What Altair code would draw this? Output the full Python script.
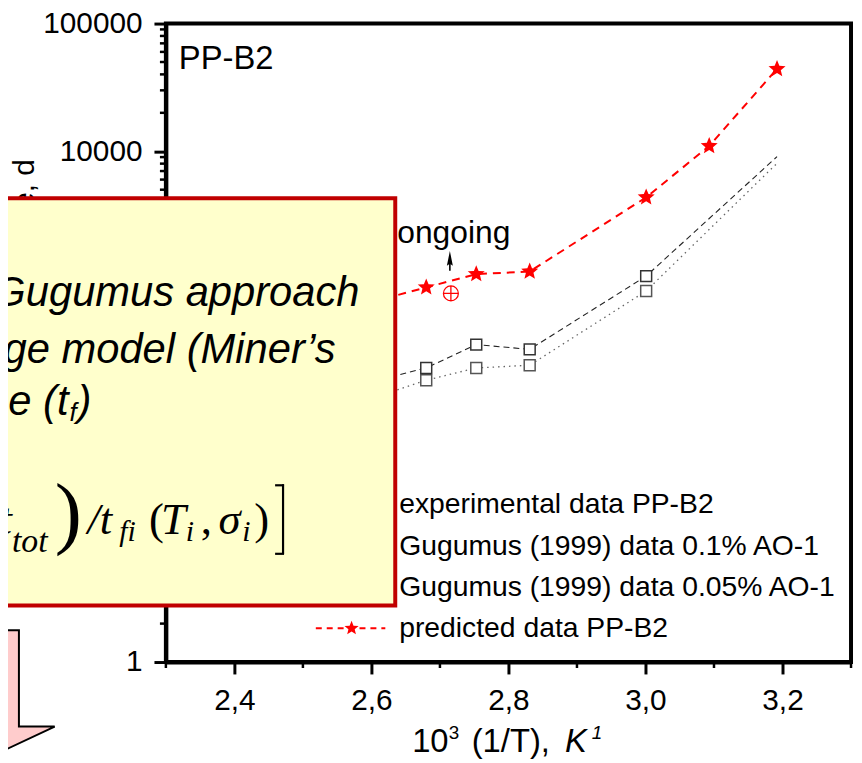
import math
import altair as alt
import pandas as pd

# ---------------- data ----------------
x_pred = [2.60, 2.680, 2.753, 2.831, 3.001, 3.093, 3.192]
y_pred = [660, 859, 1091, 1143, 4357, 11000, 44150]

x_gug = [2.60, 2.680, 2.753, 2.831, 3.001, 3.192]
y_gug01 = [157, 201, 306, 281, 1053, 9080]
y_gug005 = [116, 161, 201, 211, 805, 8050]
gug_marked = [True, True, True, True, True, False]

x_ongoing = [2.716]
y_ongoing = [771]

legend_labels = [
    "experimental data PP-B2",
    "Gugumus (1999) data 0.1% AO-1",
    "Gugumus (1999) data 0.05% AO-1",
    "predicted data PP-B2",
]
x_ticks = [2.4, 2.6, 2.8, 3.0, 3.2]
x_minor = [2.3, 2.5, 2.7, 2.9, 3.1, 3.3]
y_ticks = [1, 10, 100, 1000, 10000, 100000]
y_minor = [m * 10 ** d for d in range(5) for m in range(2, 10)]

SANS = "Liberation Sans"
SERIF = "Liberation Serif"
RED = "#FF0000"

pred = pd.DataFrame({"x": x_pred, "y": y_pred})
g01 = pd.DataFrame({"x": x_gug, "y": y_gug01, "m": gug_marked})
g005 = pd.DataFrame({"x": x_gug, "y": y_gug005, "m": gug_marked})
ong = pd.DataFrame({"x": x_ongoing, "y": y_ongoing})
one = pd.DataFrame({"k": [0]})

xs = alt.Scale(domain=[2.3, 3.3], nice=False, zero=False)
ys = alt.Scale(type="log", domain=[1, 100000], nice=False)

x_axis = alt.Axis(values=x_ticks, format=".1f", labelExpr="replace(datum.label, '.', ',')",
                  title=None, grid=False, tickSize=12, tickWidth=3, domainWidth=4,
                  labelFontSize=30, labelPadding=12, labelFont=SANS, labelColor="black",
                  tickColor="black", domainColor="black", labelOverlap=False)
y_axis = alt.Axis(values=y_ticks, format="d", title="Lifetime, d", grid=False,
                  tickSize=12, tickWidth=3, domainWidth=4, labelFontSize=30,
                  labelPadding=12, labelFont=SANS, labelColor="black", tickColor="black",
                  domainColor="black", labelOverlap=False,
                  titleFont=SANS, titleFontSize=30, titleFontWeight="normal",
                  titleColor="black", titleAngle=270, titleAlign="right",
                  titleBaseline="bottom", titleX=-127, titleY=136)

X = alt.X("x:Q", scale=xs, axis=x_axis)
Y = alt.Y("y:Q", scale=ys, axis=y_axis)


def star_path(R, r):
    pts = []
    for k in range(10):
        rad = R if k % 2 == 0 else r
        a = math.pi * k / 5 - math.pi / 2
        pts.append(f"{rad * math.cos(a):.2f},{rad * math.sin(a):.2f}")
    return "M" + " L".join(pts) + " Z"


STAR = star_path(9, 4.0)
STAR_SMALL = star_path(7.5, 3.3)
CIRC_PLUS = "M-7.5,0 A7.5,7.5 0 1,0 7.5,0 A7.5,7.5 0 1,0 -7.5,0 M-7.5,0 L7.5,0 M0,-7.5 L0,7.5"
UP_ARROW = "M0,-10 L3,5 L0.8,3.5 L0.8,10 L-0.8,10 L-0.8,3.5 L-3,5 Z"
BLOCK_ARROW = "M-79,-89 L79,-89 L79,8 L115,8 L0,62 L-115,8 L-79,8 Z"


def label(text, x, y, size, align="left", baseline="alphabetic", style="normal",
          font=SANS, color="black"):
    return alt.Chart(one).mark_text(text=text, align=align, baseline=baseline,
                                    fontSize=size, fontStyle=style, font=font,
                                    color=color).encode(x=alt.value(x), y=alt.value(y))


def rule(x1, x2, y1, y2, color="black", width=2.5, dash=None):
    kw = dict(color=color, strokeWidth=width)
    if dash:
        kw["strokeDash"] = dash
    return alt.Chart(one).mark_rule(**kw).encode(
        x=alt.value(x1), x2=alt.value(x2), y=alt.value(y1), y2=alt.value(y2))


layers = []

# minor ticks
layers.append(alt.Chart(pd.DataFrame({"y": y_minor})).mark_rule(color="black", strokeWidth=2.5)
              .encode(y=alt.Y("y:Q", scale=ys, axis=y_axis), x=alt.value(-6), x2=alt.value(0)))
layers.append(alt.Chart(pd.DataFrame({"x": x_minor})).mark_rule(color="black", strokeWidth=2.5)
              .encode(x=alt.X("x:Q", scale=xs, axis=x_axis), y=alt.value(643), y2=alt.value(649)))

# data lines and markers
layers.append(alt.Chart(g005).mark_line(color="#666666", strokeWidth=1.3, strokeDash=[1.5, 4])
              .encode(x=X, y=Y))
layers.append(alt.Chart(g01).mark_line(color="#222222", strokeWidth=1.1, strokeDash=[6, 4])
              .encode(x=X, y=Y))
layers.append(alt.Chart(g005).transform_filter("datum.m").mark_point(
    shape="square", filled=True, fill="white", stroke="#555555", strokeWidth=1.5,
    size=121, opacity=1).encode(x=X, y=Y))
layers.append(alt.Chart(g01).transform_filter("datum.m").mark_point(
    shape="square", filled=True, fill="white", stroke="#333333", strokeWidth=1.5,
    size=121, opacity=1).encode(x=X, y=Y))
layers.append(alt.Chart(pred).mark_line(color=RED, strokeWidth=2, strokeDash=[8, 6])
              .encode(x=X, y=Y))
layers.append(alt.Chart(pred).mark_point(shape=STAR, size=4, filled=True, color=RED,
                                         opacity=1).encode(x=X, y=Y))
layers.append(alt.Chart(ong).mark_point(shape=CIRC_PLUS, size=4, filled=False, stroke=RED,
                                        strokeWidth=1.3, opacity=1).encode(x=X, y=Y))

# "ongoing" annotation with arrow
layers.append(label("ongoing", 233, 221, 32))
layers.append(alt.Chart(one).mark_point(shape=UP_ARROW, size=4, filled=True, color="black",
                                        opacity=1).encode(x=alt.value(286), y=alt.value(239)))

# panel label
layers.append(label("PP-B2", 13, 46, 33))

# legend
leg_y = [484, 526, 567, 609]
for i, t in enumerate(legend_labels):
    layers.append(label(t, 235, leg_y[i], 28.5, baseline="middle"))
layers.append(rule(151, 221, leg_y[3], leg_y[3], color=RED, width=2, dash=[6, 5]))
layers.append(alt.Chart(one).mark_point(shape=STAR_SMALL, size=4, filled=True, color=RED, opacity=1)
              .encode(x=alt.value(187), y=alt.value(leg_y[3])))

# x-axis title built from pieces: 10^3 (1/T), K^1
layers.append(label("10", 248, 734, 33))
layers.append(label("3", 285, 721, 19))
layers.append(label("(1/T),", 308, 734, 33))
layers.append(label("K", 402, 734, 33, style="italic"))
layers.append(label("1", 429, 721, 19, style="italic"))

# overlay box (slide callout)
layers.append(alt.Chart(one).mark_rect(fill="#FFFFCC", stroke="#C00000", strokeWidth=4)
              .encode(x=alt.value(-190), x2=alt.value(231), y=alt.value(176), y2=alt.value(586)))
layers.append(label("Gugumus approach", 195, 284, 42, align="right", style="italic"))
layers.append(label("damage model (Miner\u2019s", 171, 342, 42, align="right", style="italic"))
layers.append(label("lifetime (t", -98, 394, 42, align="right", style="italic"))
layers.append(label("f", -97, 400, 26, style="italic"))
layers.append(label(")", -89, 394, 42, style="italic"))

# formula pieces
layers.append(label("t", -155, 514, 45, align="right", style="italic", font=SERIF))
layers.append(label("tot", -155, 532, 34, style="italic", font=SERIF))
layers.append(label(")", -112, 519, 82, font=SERIF))
layers.append(label("/t", -79, 514, 45, style="italic", font=SERIF))
layers.append(label("fi", -47, 521, 30, style="italic", font=SERIF))
layers.append(label("(", -17, 514, 45, font=SERIF))
layers.append(label("T", -5, 514, 45, style="italic", font=SERIF))
layers.append(label("i", 20, 521, 30, style="italic", font=SERIF))
layers.append(label(",", 35, 514, 45, font=SERIF))
layers.append(label("\u03c3", 53, 514, 45, style="italic", font=SERIF))
layers.append(label("i", 77, 521, 30, style="italic", font=SERIF))
layers.append(label(")", 89, 514, 45, font=SERIF))
layers.append(rule(118, 118, 464, 534, width=2.2))
layers.append(rule(110, 119, 465, 465, width=2.2))
layers.append(rule(110, 119, 534, 534, width=2.2))

# pink block arrow
layers.append(alt.Chart(one).mark_point(shape=BLOCK_ARROW, size=4, filled=True, fill="#FFCCCC",
                                        stroke="black", strokeWidth=2, opacity=1)
              .encode(x=alt.value(-227), y=alt.value(700)))

chart = alt.layer(*layers).properties(
    width=690, height=643,
    padding={"left": 159, "top": 13, "right": 3, "bottom": 99},
    autosize=alt.AutoSizeParams(type="none"),
).configure_view(stroke="black", strokeWidth=4)

chart.save("out.html", embed_options={"renderer": "svg", "actions": False})
